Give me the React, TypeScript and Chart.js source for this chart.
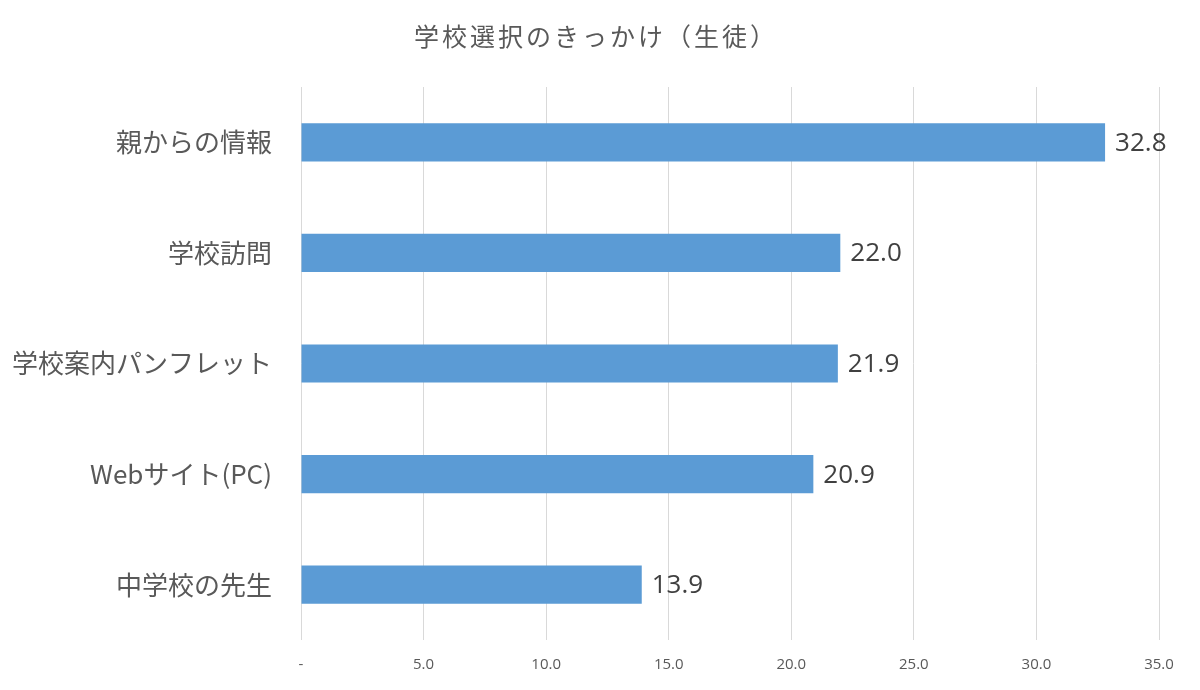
import React, { useEffect, useRef } from "react";
import { Chart, registerables } from "chart.js";

Chart.register(...registerables);

const titleText = "学校選択のきっかけ（生徒）";
const categories = ["親からの情報", "学校訪問", "学校案内パンフレット", "Webサイト(PC)", "中学校の先生"];
const values = [32.8, 22.0, 21.9, 20.9, 13.9];
const axisMin = 0;
const axisMax = 35;
const axisStep = 5;

const CJK = "'Noto Sans CJK JP', 'Noto Sans', sans-serif";
const NUM = "'Open Sans', 'Noto Sans', sans-serif";

const valueLabelPlugin = {
  id: "valueLabels",
  afterDatasetsDraw(chart: any) {
    const ctx = chart.ctx;
    const meta = chart.getDatasetMeta(0);
    ctx.save();
    ctx.font = `26px ${NUM}`;
    ctx.fillStyle = "#404040";
    ctx.textAlign = "left";
    ctx.textBaseline = "middle";
    meta.data.forEach((bar: any, i: number) => {
      const v = chart.data.datasets[0].data[i] as number;
      ctx.fillText(v.toFixed(1), bar.x + 10, bar.y + 1);
    });
    ctx.restore();
  },
};

const titlePlugin = {
  id: "spacedTitle",
  afterDraw(chart: any) {
    const ctx = chart.ctx;
    ctx.save();
    ctx.font = `25px ${CJK}`;
    ctx.fillStyle = "#595959";
    (ctx as any).letterSpacing = "3px";
    ctx.textAlign = "left";
    ctx.textBaseline = "middle";
    const w = ctx.measureText(titleText).width;
    ctx.fillText(titleText, 596 - w / 2, 36);
    ctx.restore();
  },
};

export default function App() {
  const ref = useRef<HTMLCanvasElement | null>(null);

  useEffect(() => {
    if (!ref.current) return;
    const chart = new Chart(ref.current, {
      type: "bar",
      data: {
        labels: categories,
        datasets: [
          {
            data: values,
            backgroundColor: "#5B9BD5",
            borderWidth: 0,
            categoryPercentage: 1,
            barPercentage: 0.345,
          },
        ],
      },
      options: {
        indexAxis: "y",
        animation: false,
        responsive: false,
        maintainAspectRatio: false,
        layout: { padding: { left: 0, right: 41, top: 87, bottom: 0 } },
        plugins: {
          legend: { display: false },
          tooltip: { enabled: false },
          title: { display: false },
        },
        scales: {
          x: {
            min: axisMin,
            max: axisMax,
            ticks: {
              stepSize: axisStep,
              color: "#595959",
              font: { family: NUM, size: 15 },
              padding: 16,
              callback: (v: any) => (Number(v) === 0 ? "-" : Number(v).toFixed(1)),
            },
            grid: { color: "#d9d9d9", lineWidth: 1, drawTicks: false },
            border: { display: false },
            afterFit: (s: any) => {
              s.height = 50;
            },
          },
          y: {
            ticks: {
              color: "#595959",
              font: { family: CJK, size: 26 },
              padding: 29,
            },
            grid: { display: false, drawTicks: false },
            border: { display: false },
            afterFit: (s: any) => {
              s.width = 301;
            },
          },
        },
      },
      plugins: [valueLabelPlugin, titlePlugin],
    });
    return () => chart.destroy();
  }, []);

  return (
    <div style={{ position: "fixed", left: 0, top: 0, width: 1200, height: 690, background: "#fff" }}>
      <canvas ref={ref} width={1200} height={690} style={{ width: 1200, height: 690 }} />
    </div>
  );
}
